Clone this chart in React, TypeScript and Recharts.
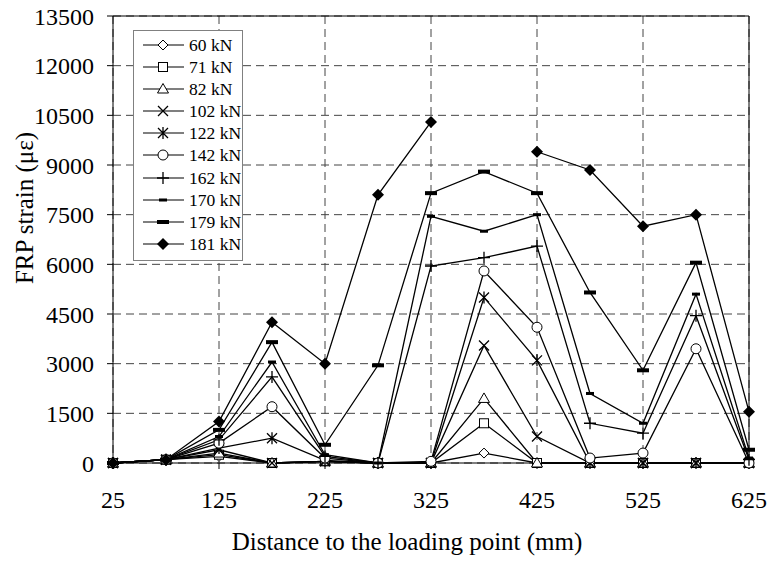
import React from 'react';
import { LineChart, Line, XAxis, YAxis, CartesianGrid, ReferenceLine } from 'recharts';

const FONT = '"Liberation Serif", "Times New Roman", serif';

// distance to the loading point (mm)
const distances = [25, 75, 125, 175, 225, 275, 325, 375, 425, 475, 525, 575, 625];
const xTicks = [25, 125, 225, 325, 425, 525, 625];
const yTicks = [0, 1500, 3000, 4500, 6000, 7500, 9000, 10500, 12000, 13500];

// FRP strain per load level
const kn60 = [0, 100, 200, 0, 50, 0, 0, 300, 0, 0, 0, 0, 0];
const kn71 = [0, 100, 250, 0, 50, 0, 0, 1200, 0, 0, 0, 0, 0];
const kn82 = [0, 100, 300, 0, 50, 0, 0, 1950, 0, 0, 0, 0, 0];
const kn102 = [0, 100, 400, 0, 50, 0, 0, 3550, 800, 0, 0, 0, 0];
const kn122 = [0, 100, 450, 750, 80, 0, 0, 5000, 3100, 0, 0, 0, 0];
const kn142 = [0, 100, 600, 1700, 150, 0, 50, 5800, 4100, 150, 300, 3450, 0];
const kn162 = [0, 100, 700, 2600, 200, 0, 5950, 6200, 6550, 1200, 900, 4450, 100];
const kn170 = [0, 100, 800, 3050, 250, 0, 7450, 7000, 7500, 2100, 1200, 5100, 150];
const kn179 = [0, 100, 1000, 3650, 550, 2950, 8150, 8800, 8150, 5150, 2800, 6050, 400];
const kn181 = [0, 100, 1250, 4250, 3000, 8100, 10300, null, 9400, 8850, 7150, 7500, 1550];

const SERIES = [
  { key: 'kn60', name: '60 kN', values: kn60, shape: 'diamond' },
  { key: 'kn71', name: '71 kN', values: kn71, shape: 'square' },
  { key: 'kn82', name: '82 kN', values: kn82, shape: 'triangle' },
  { key: 'kn102', name: '102 kN', values: kn102, shape: 'cross' },
  { key: 'kn122', name: '122 kN', values: kn122, shape: 'star' },
  { key: 'kn142', name: '142 kN', values: kn142, shape: 'circle' },
  { key: 'kn162', name: '162 kN', values: kn162, shape: 'plus' },
  { key: 'kn170', name: '170 kN', values: kn170, shape: 'dash' },
  { key: 'kn179', name: '179 kN', values: kn179, shape: 'bar' },
  { key: 'kn181', name: '181 kN', values: kn181, shape: 'diamondFill' },
];

const data = distances.map((x, i) => {
  const row: Record<string, number | null> = { x };
  SERIES.forEach(s => { row[s.key] = s.values[i]; });
  return row;
});

const Marker = ({ shape, cx, cy }: { shape: string; cx: number; cy: number }) => {
  const k = { stroke: '#000', strokeWidth: 1 };
  switch (shape) {
    case 'diamond':
      return <polygon points={`${cx},${cy - 5} ${cx + 5},${cy} ${cx},${cy + 5} ${cx - 5},${cy}`} fill="#fff" {...k} />;
    case 'square':
      return <rect x={cx - 4.5} y={cy - 4.5} width={9} height={9} fill="#fff" {...k} />;
    case 'triangle':
      return <polygon points={`${cx},${cy - 5.5} ${cx + 5.5},${cy + 4} ${cx - 5.5},${cy + 4}`} fill="#fff" {...k} />;
    case 'cross':
      return <path d={`M${cx - 5},${cy - 5}L${cx + 5},${cy + 5}M${cx + 5},${cy - 5}L${cx - 5},${cy + 5}`} fill="none" {...k} strokeWidth={1.3} />;
    case 'star':
      return <path d={`M${cx - 5},${cy - 5}L${cx + 5},${cy + 5}M${cx + 5},${cy - 5}L${cx - 5},${cy + 5}M${cx},${cy - 6}L${cx},${cy + 6}`} fill="none" {...k} strokeWidth={1.3} />;
    case 'circle':
      return <circle cx={cx} cy={cy} r={5} fill="#fff" {...k} />;
    case 'plus':
      return <path d={`M${cx - 6},${cy}L${cx + 6},${cy}M${cx},${cy - 6}L${cx},${cy + 6}`} fill="none" {...k} strokeWidth={1.3} />;
    case 'dash':
      return <rect x={cx - 4} y={cy - 1.5} width={8} height={3} fill="#000" />;
    case 'bar':
      return <rect x={cx - 6} y={cy - 2} width={12} height={4} fill="#000" />;
    default:
      return <polygon points={`${cx},${cy - 6} ${cx + 6},${cy} ${cx},${cy + 6} ${cx - 6},${cy}`} fill="#000" />;
  }
};

const LegendBox = () => (
  <div
    style={{
      position: 'absolute', left: 133, top: 30, width: 108, height: 226,
      border: '1px solid #808080', background: '#fff', paddingTop: 3, boxSizing: 'content-box',
    }}
  >
    {SERIES.map(s => (
      <div key={s.key} style={{ position: 'relative', height: 22.1 }}>
        <svg width={52} height={22} style={{ position: 'absolute', left: 0, top: 0 }}>
          <line x1={9} y1={11} x2={50} y2={11} stroke="#000" strokeWidth={1.2} />
          <Marker shape={s.shape} cx={29} cy={11} />
        </svg>
        <span
          style={{
            position: 'absolute', left: 55, top: 0, lineHeight: '22px',
            fontFamily: FONT, fontSize: 17.5, whiteSpace: 'nowrap', color: '#000',
          }}
        >
          {s.name}
        </span>
      </div>
    ))}
  </div>
);

const App: React.FC = () => {
  const tickStyle = { fontFamily: FONT, fontSize: 24, fill: '#000' };
  return (
    <div style={{ position: 'absolute', left: 0, top: 0, width: 771, height: 562, background: '#fff' }}>
      <LineChart width={771} height={562} data={data} margin={{ top: 16, right: 22, left: 0, bottom: 0 }}>
        <CartesianGrid stroke="#444" strokeDasharray="8 5" />
        <XAxis
          dataKey="x"
          type="number"
          domain={[25, 625]}
          ticks={xTicks}
          height={99}
          tickSize={6}
          tickMargin={22}
          tick={tickStyle}
          axisLine={{ stroke: '#000' }}
          tickLine={{ stroke: '#000' }}
        />
        <YAxis
          domain={[0, 13500]}
          ticks={yTicks}
          width={113}
          tickSize={6}
          tickMargin={13}
          tick={tickStyle}
          axisLine={{ stroke: '#000' }}
          tickLine={{ stroke: '#000' }}
          interval={0}
        />
        <ReferenceLine y={13500} stroke="#000" />
        <ReferenceLine x={625} stroke="#000" />
        {SERIES.map(s => (
          <Line
            key={s.key}
            dataKey={s.key}
            name={s.name}
            stroke="#000"
            strokeWidth={1.3}
            isAnimationActive={false}
            connectNulls={false}
            dot={(p: any) =>
              p.cx == null || p.cy == null || p.value == null
                ? <g key={`${s.key}-${p.index}`} />
                : <g key={`${s.key}-${p.index}`}><Marker shape={s.shape} cx={p.cx} cy={p.cy} /></g>
            }
            activeDot={false}
          />
        ))}
      </LineChart>
      <svg width={771} height={562} style={{ position: 'absolute', left: 0, top: 0, pointerEvents: 'none' }}>
        <text x={407} y={550} textAnchor="middle" fontFamily={FONT} fontSize={25} fill="#000">
          Distance to the loading point (mm)
        </text>
        <text transform="translate(33,208) rotate(-90)" textAnchor="middle" fontFamily={FONT} fontSize={25} fill="#000">
          FRP strain (με)
        </text>
      </svg>
      <LegendBox />
    </div>
  );
};

export default App;
